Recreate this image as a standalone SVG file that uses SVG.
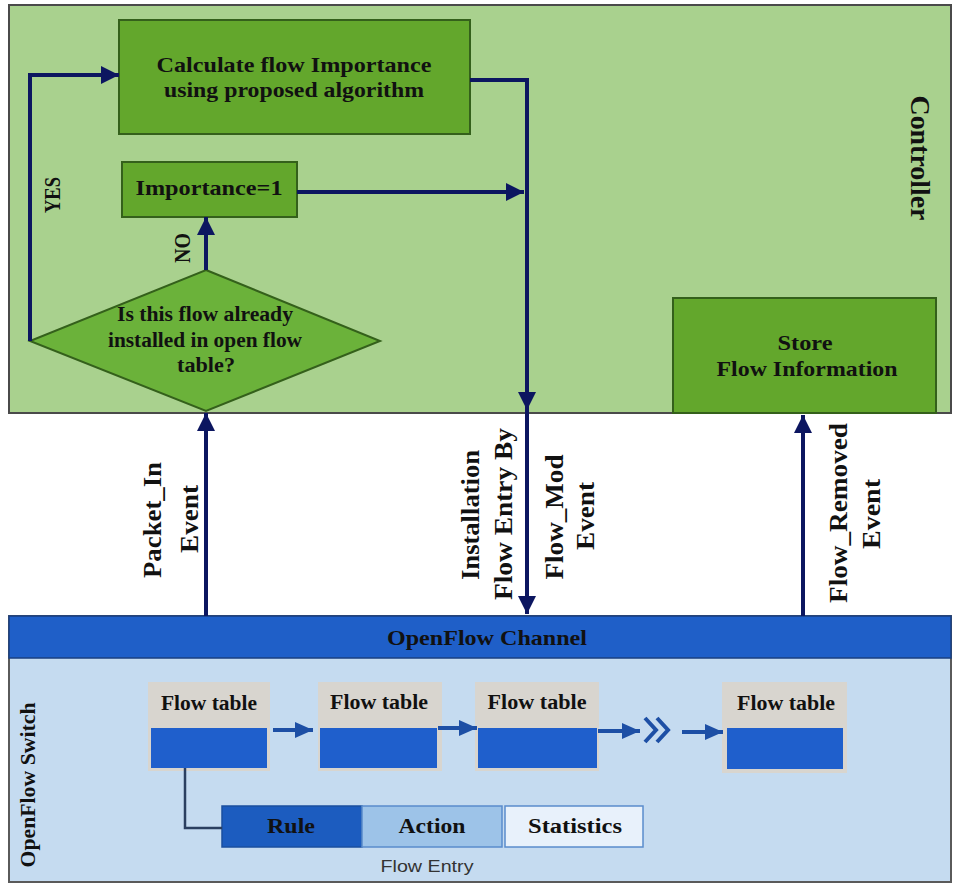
<svg xmlns="http://www.w3.org/2000/svg" width="956" height="885" viewBox="0 0 956 885">
<defs>
<style>
.t{font-family:"Liberation Serif","Times New Roman",serif;font-weight:bold;fill:#111;}
.g{fill:#63a72c;stroke:#34601b;stroke-width:2;}
.nav{fill:none;stroke:#0c1660;stroke-width:4;}
.bl{fill:none;stroke:#1d4fa5;stroke-width:4;}
.ftg{fill:#d8d5cf;}
.ftb{fill:#1f5fcc;}
</style>
<marker id="ah" markerUnits="userSpaceOnUse" markerWidth="20" markerHeight="18" refX="18" refY="9" orient="auto">
<path d="M0,0 L18,9 L0,18 Z" fill="#0c1660"/>
</marker>
<marker id="bh" markerUnits="userSpaceOnUse" markerWidth="20" markerHeight="18" refX="18" refY="8" orient="auto">
<path d="M0,0 L18,8 L0,16 Z" fill="#1d4fa5"/>
</marker>
</defs>
<rect width="956" height="885" fill="#ffffff"/>

<g id="controller">
<rect x="9" y="5" width="942" height="408" fill="#a9d18e" stroke="#4a4a4a" stroke-width="2"/>
<text class="t" font-size="28" transform="translate(911,158) rotate(90)" text-anchor="middle" textLength="125" lengthAdjust="spacingAndGlyphs">Controller</text>
</g>

<g id="switch">
<rect x="9" y="616" width="942" height="266" fill="#c5dbf0" stroke="#5a5a5a" stroke-width="2"/>
<rect x="9" y="616" width="942" height="42" fill="#1f5fc8" stroke="#1a3f80" stroke-width="1.5"/>
<text class="t" font-size="21" x="487" y="645" text-anchor="middle" textLength="200" lengthAdjust="spacingAndGlyphs">OpenFlow Channel</text>
<text class="t" font-size="22" transform="translate(35,785) rotate(-90)" text-anchor="middle" textLength="165" lengthAdjust="spacingAndGlyphs">OpenFlow Switch</text>
</g>

<g id="calc">
<rect class="g" x="119" y="20" width="351" height="114"/>
<text class="t" font-size="22" x="294" y="72" text-anchor="middle" textLength="275" lengthAdjust="spacingAndGlyphs">Calculate flow Importance</text>
<text class="t" font-size="22" x="294" y="97" text-anchor="middle" textLength="260" lengthAdjust="spacingAndGlyphs">using proposed algorithm</text>
</g>

<g id="importance">
<rect class="g" x="122" y="162" width="175" height="55"/>
<text class="t" font-size="22" x="209" y="195" text-anchor="middle" textLength="147" lengthAdjust="spacingAndGlyphs">Importance=1</text>
</g>

<g id="decision">
<polygon points="206,270 380,341 206,411 30,341" fill="#6bb23a" stroke="#34601b" stroke-width="2"/>
<text class="t" font-size="20.5" x="205" y="321" text-anchor="middle" textLength="176" lengthAdjust="spacingAndGlyphs">Is this flow already</text>
<text class="t" font-size="20.5" x="205" y="347" text-anchor="middle" textLength="194" lengthAdjust="spacingAndGlyphs">installed in open flow</text>
<text class="t" font-size="20.5" x="206" y="372" text-anchor="middle" textLength="58" lengthAdjust="spacingAndGlyphs">table?</text>
</g>

<g id="store">
<rect class="g" x="673" y="298" width="263" height="115"/>
<text class="t" font-size="21" x="805" y="350" text-anchor="middle" textLength="55" lengthAdjust="spacingAndGlyphs">Store</text>
<text class="t" font-size="21" x="807" y="376" text-anchor="middle" textLength="181" lengthAdjust="spacingAndGlyphs">Flow Information</text>
</g>

<g id="table1">
<rect class="ftg" x="148" y="682" width="122" height="89"/>
<rect class="ftb" x="151" y="728" width="116" height="40"/>
<text class="t" font-size="20" x="209" y="710" text-anchor="middle" textLength="96" lengthAdjust="spacingAndGlyphs">Flow table</text>
</g>
<g id="table2">
<rect class="ftg" x="318" y="682" width="124" height="89"/>
<rect class="ftb" x="320" y="728" width="117" height="40"/>
<text class="t" font-size="20" x="379" y="709" text-anchor="middle" textLength="98" lengthAdjust="spacingAndGlyphs">Flow table</text>
</g>
<g id="table3">
<rect class="ftg" x="475" y="682" width="124" height="89"/>
<rect class="ftb" x="478" y="728" width="119" height="40"/>
<text class="t" font-size="20" x="537" y="709" text-anchor="middle" textLength="99" lengthAdjust="spacingAndGlyphs">Flow table</text>
</g>
<g id="table4">
<rect class="ftg" x="722" y="682" width="125" height="91"/>
<rect class="ftb" x="727" y="728" width="116" height="41"/>
<text class="t" font-size="20" x="786" y="710" text-anchor="middle" textLength="98" lengthAdjust="spacingAndGlyphs">Flow table</text>
</g>

<g id="flowentry">
<rect x="222" y="806" width="140" height="41" fill="#1c5cbf" stroke="#1a4f9f" stroke-width="1.5"/>
<rect x="362" y="806" width="140" height="41" fill="#9dc3e8" stroke="#5a8ccc" stroke-width="1.5"/>
<rect x="505" y="806" width="138" height="41" fill="#e8f1fb" stroke="#5a8ccc" stroke-width="1.5"/>
<text class="t" font-size="20" x="291" y="833" text-anchor="middle" textLength="48" lengthAdjust="spacingAndGlyphs">Rule</text>
<text class="t" font-size="20" x="432" y="833" text-anchor="middle" textLength="67" lengthAdjust="spacingAndGlyphs">Action</text>
<text class="t" font-size="20" x="575" y="833" text-anchor="middle" textLength="94" lengthAdjust="spacingAndGlyphs">Statistics</text>
<text x="427" y="872" font-family="'Liberation Sans','Open Sans',sans-serif" font-size="17" fill="#333" text-anchor="middle" textLength="93" lengthAdjust="spacingAndGlyphs">Flow Entry</text>
</g>

<g id="connectors">
<path class="nav" d="M30,341 V75 H119" marker-end="url(#ah)"/>
<path class="nav" d="M206,270 V217" marker-end="url(#ah)"/>
<path class="nav" d="M297,192 H524" marker-end="url(#ah)"/>
<path class="nav" d="M470,80 H527 V410" marker-end="url(#ah)"/>
<path class="nav" d="M527,410 V614" marker-end="url(#ah)"/>
<path class="nav" d="M206,616 V413" marker-end="url(#ah)"/>
<path class="nav" d="M803,616 V415" marker-end="url(#ah)"/>
<path class="bl" d="M273,730 H313" marker-end="url(#bh)"/>
<path class="bl" d="M438,728 H477" marker-end="url(#bh)"/>
<path class="bl" d="M598,731 H640" marker-end="url(#bh)"/>
<path class="bl" d="M682,732 H723" marker-end="url(#bh)"/>
<polyline points="645,718 656,730 645,742" fill="none" stroke="#1d4fa5" stroke-width="4"/>
<polyline points="657,718 668,730 657,742" fill="none" stroke="#1d4fa5" stroke-width="4"/>
<path d="M185,768 V828 H222" fill="none" stroke="#2b3f60" stroke-width="2.5"/>
</g>

<g id="labels">
<text class="t" font-size="24" transform="translate(60,195) rotate(-90)" text-anchor="middle" textLength="36" lengthAdjust="spacingAndGlyphs">YES</text>
<text class="t" font-size="24" transform="translate(190,248) rotate(-90)" text-anchor="middle" textLength="30" lengthAdjust="spacingAndGlyphs">NO</text>
<text class="t" font-size="26" transform="translate(161,520) rotate(-90)" text-anchor="middle" textLength="116" lengthAdjust="spacingAndGlyphs">Packet_In</text>
<text class="t" font-size="26" transform="translate(198,519) rotate(-90)" text-anchor="middle" textLength="68" lengthAdjust="spacingAndGlyphs">Event</text>
<text class="t" font-size="26" transform="translate(479,515) rotate(-90)" text-anchor="middle" textLength="130" lengthAdjust="spacingAndGlyphs">Installation</text>
<text class="t" font-size="26" transform="translate(512,514) rotate(-90)" text-anchor="middle" textLength="172" lengthAdjust="spacingAndGlyphs">Flow Entry By</text>
<text class="t" font-size="26" transform="translate(563,517) rotate(-90)" text-anchor="middle" textLength="125" lengthAdjust="spacingAndGlyphs">Flow_Mod</text>
<text class="t" font-size="26" transform="translate(594,516) rotate(-90)" text-anchor="middle" textLength="68" lengthAdjust="spacingAndGlyphs">Event</text>
<text class="t" font-size="26" transform="translate(847,513) rotate(-90)" text-anchor="middle" textLength="180" lengthAdjust="spacingAndGlyphs">Flow_Removed</text>
<text class="t" font-size="26" transform="translate(880,514) rotate(-90)" text-anchor="middle" textLength="70" lengthAdjust="spacingAndGlyphs">Event</text>
</g>
</svg>
